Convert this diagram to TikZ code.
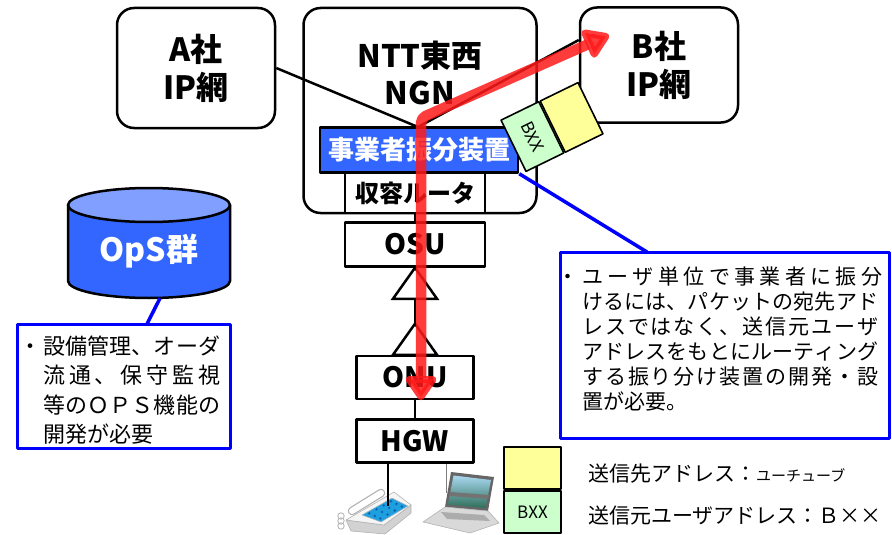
\documentclass[tikz,border=0pt]{standalone}
\usepackage{fontspec}
\setmainfont{Noto Sans CJK JP}
\usetikzlibrary{arrows.meta,positioning,calc}

% spread the characters of one line evenly over a given width
\makeatletter
\newcommand\fillline[2]{\hbox to #1{\@tfor\@ch:=#2\do{\@ch\hfil}\unskip}}
\makeatother
\newcommand\fsz[2]{\fontsize{#1}{#2}\selectfont}

\definecolor{ngnblue}{HTML}{3366FF}
\definecolor{capblue}{HTML}{809FFF}
\definecolor{dstyellow}{HTML}{FFFF99}
\definecolor{srcgreen}{HTML}{CCFFCC}
\definecolor{flowred}{HTML}{FF1A1A}
\definecolor{keyblue}{HTML}{1E9FE0}
\definecolor{keydark}{HTML}{0B5FA8}
\definecolor{skyblue}{HTML}{A8D8F0}
\definecolor{screenlow}{HTML}{2F6F5A}

\tikzset{
  net/.style={
    draw, line width=2.5pt, rounded corners=17pt, fill=white,
    align=center, font=\bfseries\fsz{32}{38}
  },
  dev/.style={
    draw, line width=2.5pt, fill=white, inner sep=0pt,
    font=\bfseries\fsz{28}{28}
  },
  link/.style={draw=black, line width=2.5pt},
  split/.style={draw, line width=2.5pt, fill=white, line join=miter},
  cell/.style={
    draw, line width=1.6pt, minimum width=57pt, minimum height=42pt,
    inner sep=0pt, font=\fsz{17}{17}
  },
  pkt/.pic={
    \node[cell, fill=dstyellow, anchor=south] (-dst) at (0,0) {};
    \node[cell, fill=srcgreen, anchor=north] (-src) at (0,0) {BXX};
  },
  flow/.style={
    draw=flowred, line width=10.5pt, opacity=.85, rounded corners=5pt,
    arrows={Triangle[round,width=35pt,length=27pt]-Triangle[round,width=34pt,length=28pt]}
  },
  note/.style={draw=blue, line width=3pt, fill=white, inner sep=0pt},
  callout/.style={draw=blue, line width=3.5pt},
  notetext/.style={anchor=base west, inner sep=0pt, font=\fsz{21}{25}},
}

\begin{document}
\begin{tikzpicture}[x=1pt, y=-1pt, line join=round]
  \useasboundingbox (0,0) rectangle (892,535);

  % networks
  \node[net, minimum width=158pt, minimum height=120pt] (isp-a) at (196,68) {A社\\IP網};
  \node[net, minimum width=233pt, minimum height=205pt] (ngn) at (420,110.5) {};
  \node[net, minimum width=158pt, minimum height=115pt] (isp-b) at (659,65) {B社\\IP網};
  \node[font=\bfseries\fsz{31}{37}, align=center] (ngn-title) at (420,73) {NTT東西\\NGN};

  \coordinate (hub) at (418,127);
  \draw[link] (isp-a.east) -- (hub) -- ([yshift=25pt]isp-b.west);

  % access side
  \node[dev, fill=ngnblue, text=white, minimum width=198pt, minimum height=45pt,
        font=\bfseries\fsz{26}{26}] (sorter) at (419,150) {事業者振分装置};
  \node[dev, minimum width=140pt, minimum height=40pt,
        font=\bfseries\fsz{24}{24}] (rtr) at (415,193) {収容ルータ};
  \node[dev, minimum width=140pt, minimum height=44pt, below=7pt of rtr] (osu) {OSU};
  \node[dev, minimum width=117pt, minimum height=43pt] (onu) at (415,377.5) {ONU};
  \node[dev, minimum width=117pt, minimum height=43pt, below=18pt of onu] (hgw) {HGW};

  \draw[link] (rtr) -- (osu);
  \draw[split] (osu.south) -- ++(22,31) -- ++(-44,0) -- cycle;
  \draw[split] ([yshift=31pt]onu.north) -- ++(22,31) -- ++(-44,0) -- cycle;
  \draw[link] ([yshift=-31pt]osu.south) -- ([yshift=31pt]onu.north);
  \draw[link] (onu) -- (hgw);

  % packet on its way
  \pic[rotate=-64, transform shape] (tag) at (552,127) {pkt};

  \coordinate (bend) at (421,118);
  \coordinate (b-tip) at (609,35);
  \draw[flow] (onu.south -| bend) -- (bend) -- (b-tip);

  % OpS cylinder
  \path[draw, line width=2.5pt, fill=ngnblue] (68,205) -- (68,281)
    arc[start angle=180, end angle=360, x radius=81pt, y radius=17pt] -- (230,205) -- cycle;
  \path[draw, line width=2.5pt, fill=capblue] (149,205) ellipse[x radius=81pt, y radius=17pt];
  \node[font=\bfseries\fsz{32}{32}, text=white, minimum width=162pt,
        minimum height=93pt] (ops) at (149,251.5) {OpS群};

  % notes
  \draw[callout] ([xshift=11pt]ops.south) -- (147,324);
  \draw[callout] (sorter.south east) -- (647,252);
  \node[note, minimum width=213pt, minimum height=124pt] (opsnote) at (123.5,386) {};
  \node[note, minimum width=329pt, minimum height=186pt] (sortnote) at (724.5,345) {};

  \foreach \txt [count=\i] in {
      \llap{・\hspace{2pt}}\fillline{177pt}{設備管理、オーダ},
      \fillline{177pt}{流通、保守監視},
      \fillline{177pt}{等のＯＰＳ機能の},
      開発が必要}
    \node[notetext, font=\fsz{22}{22}] (opsline-\i) at (43, 325.1+29.3*\i) {\txt};

  \foreach \txt [count=\i] in {
      \llap{・\hspace{4pt}}\fillline{300pt}{ユーザ単位で事業者に振分},
      \fillline{296pt}{けるには、パケットの宛先アド},
      \fillline{296pt}{レスではなく、送信元ユーザ},
      \fillline{296pt}{アドレスをもとにルーティング},
      \fillline{296pt}{する振り分け装置の開発・設},
      置が必要。}
    \node[notetext] (sortline-\i) at (582, 259.5+25*\i) {\txt};

  % telephone
  \coordinate (tel) at (388,506);
  \coordinate (pc) at (446,493);
  \filldraw[fill=gray!35, draw=gray!60, line width=.6pt]
    (346,520) -- (351,531) -- (385,534) -- (411,513) -- (411,505) -- (384,525) -- cycle;
  \filldraw[fill=gray!8, draw=gray!60, line width=.6pt]
    (346,520) -- (394,492) -- (411,505) -- (384,525) -- cycle;
  \filldraw[fill=keyblue, draw=gray!55, line width=.5pt]
    (362,515) -- (392,498) -- (408,506) -- (381,522) -- cycle;
  \foreach \i in {0,...,3}
    \foreach \j in {0,1,2}
      \fill[keydark] ({363+7.2*(\i+.5)+5.5*(\j+.5)}, {514-4*(\i+.5)+2.6*(\j+.5)}) circle (1.3pt);
  \draw[gray!60, line width=8.5pt, line cap=round] (352,511) -- (381,493);
  \draw[white, line width=6pt, line cap=round] (352,511) -- (381,493);
  \foreach \k in {0,1,2}
    \draw[gray!60, line width=.8pt] (341,516+5*\k) circle (3.2pt);
  \draw[link] (hgw.south -| tel) -- (tel);

  % notebook pc
  \fill[gray!80!black] (451,472) -- (494,477) -- (488,511) -- (445,507) -- cycle;
  \shade[top color=skyblue, bottom color=screenlow]
    (453.5,475.5) -- (491,480) -- (485.5,508) -- (448,504.5) -- cycle;
  \fill[black!55] (450,492) -- (489,495) -- (488,499) -- (449,496) -- cycle;
  \filldraw[fill=gray!30, draw=gray!60, line width=.6pt]
    (445,507) -- (488,511) -- (499,523) -- (470,533) -- (423,522) -- cycle;
  \fill[gray!65] (441,512) -- (484,515) -- (490,521) -- (447,519) -- cycle;
  \draw[gray, line width=1pt] (hgw.south -| pc) -- (pc);

  % address legend
  \pic (key) at (532.5,490) {pkt};
  \node[notetext] (dst-addr) at (588,481) {送信先アドレス：{\fsz{15}{15}ユーチューブ}};
  \node[notetext] (src-addr) at (588,523) {送信元ユーザアドレス：Ｂ××};
\end{tikzpicture}
\end{document}
